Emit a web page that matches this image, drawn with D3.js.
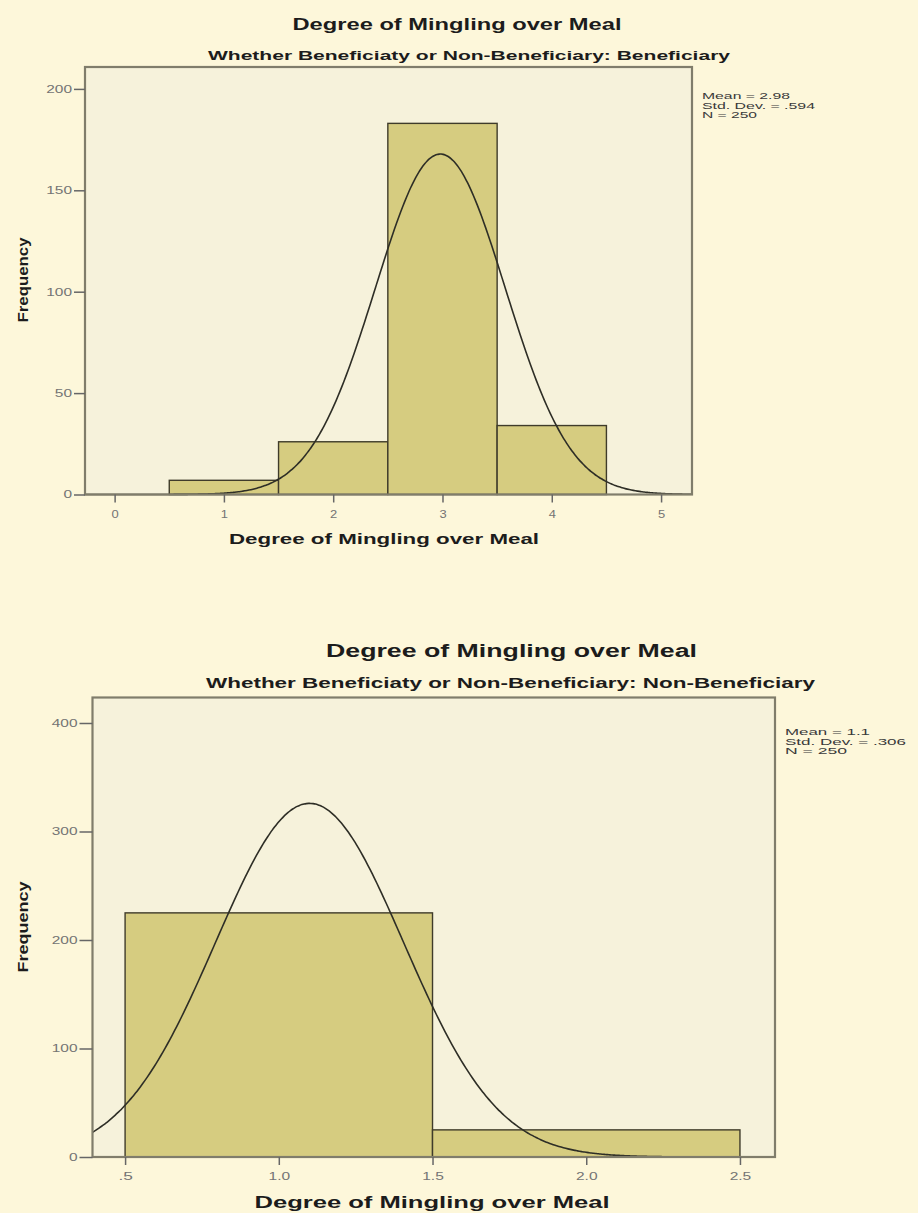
<!DOCTYPE html>
<html>
<head>
<meta charset="utf-8">
<script src="https://cdn.jsdelivr.net/npm/d3@7/dist/d3.min.js"></script>
<style>
body { margin: 0; background: #fdf7da; }
svg { display: block; font-family: "Liberation Sans", Arial, sans-serif; }
</style>
</head>
<body>
<script>
// --- data: Beneficiary ---
var benBinStarts = [0.5, 1.5, 2.5, 3.5],
    benCounts = [7, 26, 183, 34],
    benStats = [2.98, 0.594, 250],        // mean, std. dev., N
    benXTicks = [0, 1, 2, 3, 4, 5],
    benXLabels = ["0", "1", "2", "3", "4", "5"],
    benYTicks = [0, 50, 100, 150, 200],
    benLegend = ["Mean = 2.98", "Std. Dev. = .594", "N = 250"];

// --- data: Non-Beneficiary ---
var nonBinStarts = [0.5, 1.5],
    nonCounts = [225, 25],
    nonStats = [1.1, 0.306, 250],
    nonXTicks = [0.5, 1.0, 1.5, 2.0, 2.5],
    nonXLabels = [".5", "1.0", "1.5", "2.0", "2.5"],
    nonYTicks = [0, 100, 200, 300, 400],
    nonLegend = ["Mean = 1.1", "Std. Dev. = .306", "N = 250"];

var binWidth = 1;
var mainTitle = "Degree of Mingling over Meal",
    xTitle = "Degree of Mingling over Meal",
    yTitle = "Frequency",
    subTitles = ["Whether Beneficiaty or Non-Beneficiary: Beneficiary",
                 "Whether Beneficiaty or Non-Beneficiary: Non-Beneficiary"];

var width = 918, height = 1213;

var svg = d3.select("body").append("svg")
    .attr("width", width)
    .attr("height", height);

// the source picture is stretched sideways, so text gets a fixed length
function label(g, txt, x, y, size, len, anchor, bold) {
  return g.append("text")
      .attr("x", x).attr("y", y)
      .attr("text-anchor", anchor || "middle")
      .attr("font-size", size)
      .attr("font-weight", bold ? "bold" : "normal")
      .attr("fill", bold ? "#1c1c1c" : "#555")
      .attr("textLength", len)
      .attr("lengthAdjust", "spacingAndGlyphs")
      .text(txt);
}

function drawHist(c) {
  var g = svg.append("g");

  var x = d3.scaleLinear().domain(c.xDomain).range([c.left, c.right]);
  var y = d3.scaleLinear().domain(c.yDomain).range([c.bottom, c.top]);

  // plot background
  g.append("rect")
      .attr("x", c.left).attr("y", c.top)
      .attr("width", c.right - c.left).attr("height", c.bottom - c.top)
      .attr("fill", "#f6f2db");

  // bars
  var bins = c.starts.map(function(s, i) { return {x0: s, x1: s + binWidth, n: c.counts[i]}; });
  g.selectAll("rect.bar")
      .data(bins)
    .enter().append("rect")
      .attr("class", "bar")
      .attr("x", function(d) { return x(d.x0); })
      .attr("y", function(d) { return y(d.n); })
      .attr("width", function(d) { return x(d.x1) - x(d.x0); })
      .attr("height", function(d) { return y(0) - y(d.n); })
      .attr("fill", "#d6cc80")
      .attr("stroke", "#3f3b2a")
      .attr("stroke-width", 1.4);

  // normal curve from mean / sd / N
  var mean = c.stats[0], sd = c.stats[1], n = c.stats[2];
  var xs = d3.range(c.xDomain[0], c.xDomain[1], (c.xDomain[1] - c.xDomain[0]) / 300).concat([c.xDomain[1]]);
  var line = d3.line()
      .x(function(v) { return x(v); })
      .y(function(v) {
        var z = (v - mean) / sd;
        return y(n * binWidth * Math.exp(-0.5 * z * z) / (sd * Math.sqrt(2 * Math.PI)));
      })
      .curve(d3.curveBasis);
  g.append("path")
      .datum(xs)
      .attr("d", line)
      .attr("fill", "none")
      .attr("stroke", "#2e2e26")
      .attr("stroke-width", 1.6);

  // frame
  g.append("rect")
      .attr("x", c.left).attr("y", c.top)
      .attr("width", c.right - c.left).attr("height", c.bottom - c.top)
      .attr("fill", "none")
      .attr("stroke", "#807d6b")
      .attr("stroke-width", 2.2);

  // axes
  var yAxis = d3.axisLeft(y).tickValues(c.yTicks).tickSize(c.yTickLen).tickPadding(2).tickFormat(d3.format("d"));
  var ya = g.append("g").attr("transform", "translate(" + c.left + ",0)").call(yAxis);
  var xAxis = d3.axisBottom(x).tickValues(c.xTicks).tickSize(8).tickPadding(4)
      .tickFormat(function(d, i) { return c.xLabels[i]; });
  var xa = g.append("g").attr("transform", "translate(0," + c.bottom + ")").call(xAxis);

  [ya, xa].forEach(function(a) {
    a.select(".domain").remove();
    a.selectAll(".tick line").attr("stroke", "#666").attr("stroke-width", 1.5);
    a.selectAll(".tick text")
        .attr("fill", "#747474")
        .attr("font-size", 10.5)
        .attr("font-family", "\"Liberation Sans\", Arial, sans-serif");
  });
  ya.selectAll(".tick text").attr("textLength", function(d) { return String(d).length * 8.6; })
      .attr("lengthAdjust", "spacingAndGlyphs");
  xa.selectAll(".tick text").attr("dy", "1.05em")
      .attr("textLength", function(d, i) { return c.xLabels[i].length * 7.2; })
      .attr("lengthAdjust", "spacingAndGlyphs");

  // titles
  label(g, mainTitle, c.title[0], c.title[1], c.title[2], c.title[3], "middle", true);
  label(g, c.sub, c.subPos[0], c.subPos[1], c.subPos[2], c.subPos[3], "middle", true);
  label(g, xTitle, c.xt[0], c.xt[1], c.xt[2], c.xt[3], "middle", true);
  label(g, yTitle, 0, 0, c.yt[2], c.yt[3], "middle", true)
      .attr("transform", "translate(" + c.yt[0] + "," + c.yt[1] + ") rotate(-90)");

  // stats legend
  c.legend.forEach(function(t, i) {
    label(g, t, c.leg[0], c.leg[1] + i * 9.5, 9.5, c.legLens[i], "start", false).attr("fill", "#3a3a3a");
  });
}

drawHist({
  starts: benBinStarts, counts: benCounts, stats: benStats,
  xTicks: benXTicks, xLabels: benXLabels, yTicks: benYTicks,
  legend: benLegend, sub: subTitles[0],
  left: 85, right: 692, top: 67, bottom: 494.5,
  xDomain: [-0.271, 5.283], yDomain: [0, 210.8], yTickLen: 11,
  title: [457, 30, 17, 329], subPos: [469, 60, 13, 522],
  xt: [384, 544, 15, 310], yt: [28, 280, 14, 85],
  leg: [702, 99], legLens: [88, 113, 55]
});

drawHist({
  starts: nonBinStarts, counts: nonCounts, stats: nonStats,
  xTicks: nonXTicks, xLabels: nonXLabels, yTicks: nonYTicks,
  legend: nonLegend, sub: subTitles[1],
  left: 92.5, right: 775, top: 697.5, bottom: 1157,
  xDomain: [0.394, 2.614], yDomain: [0, 423.5], yTickLen: 13,
  title: [511.5, 657, 18, 371], subPos: [510.5, 688, 14, 609],
  xt: [432, 1208, 16, 355], yt: [28, 927, 14, 91],
  leg: [785, 735], legLens: [85, 121, 62]
});
</script>
</body>
</html>
